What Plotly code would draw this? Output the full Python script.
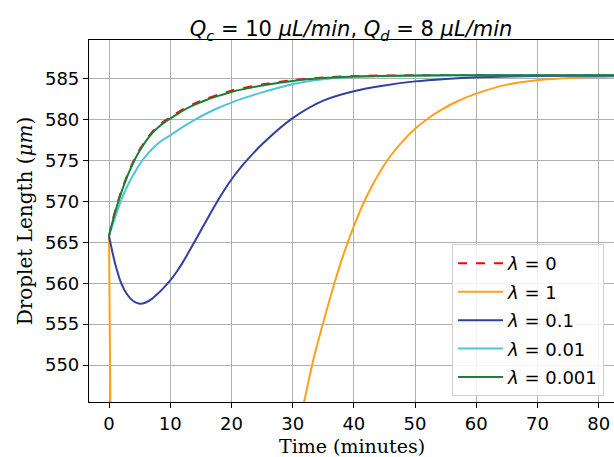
import plotly.graph_objects as go

# ---- data ----
t_green = [0, 0.5, 1, 1.5, 2, 3, 4, 5, 6, 7, 8, 9, 10, 12, 14, 16, 18, 20, 22, 25, 30, 35, 40, 50, 60, 82.5]
y_green = [565.8, 567.3, 568.7, 569.95, 571.1, 573.1, 574.8, 576.2, 577.35, 578.3, 579.05, 579.65, 580.15, 581.1,
           581.85, 582.45, 582.95, 583.4, 583.75, 584.2, 584.75, 585.1, 585.3, 585.42, 585.45, 585.45]

t_red = t_green
y_red = [565.8, 567.45, 568.85, 570.1, 571.25, 573.25, 574.95, 576.35, 577.5, 578.45, 579.2, 579.8, 580.3, 581.25,
         582.0, 582.6, 583.1, 583.55, 583.9, 584.33, 584.85, 585.17, 585.35, 585.45, 585.48, 585.48]

t_cyan = [0, 1, 2, 3, 4, 5, 6, 7, 8, 9, 10, 12, 14, 16, 18, 20, 22, 25, 30, 35, 40, 50, 60, 82.5]
y_cyan = [565.8, 568.1, 570.2, 571.9, 573.3, 574.55, 575.55, 576.4, 577.1, 577.65, 578.1, 579.1, 580.0, 580.8,
          581.5, 582.1, 582.65, 583.35, 584.35, 584.95, 585.25, 585.4, 585.45, 585.45]

t_blue = [0, 0.5, 1, 2, 3, 4, 5, 6, 7, 8, 9, 10, 11, 12, 14, 16, 18, 20, 22, 25, 30, 35, 40, 45, 50, 55, 60, 70,
          82.5]
y_blue = [565.8, 564.0, 562.4, 560.0, 558.6, 557.8, 557.5, 557.65, 558.1, 558.75, 559.5, 560.35, 561.35, 562.5,
          565.1, 567.8, 570.4, 572.7, 574.6, 577.0, 580.2, 582.35, 583.5, 584.2, 584.7, 585.0, 585.2, 585.35, 585.4]

# orange: sharp drop at t=0 (leaves the axes), then returns from below around t=32
t_orange = [0, 0.5, None, 31.0, 31.85, 33.4, 35, 36.7, 38.3, 40, 42, 44, 46, 48, 50, 52, 54, 57, 60, 65, 70, 76, 82.5]
y_orange = [565.8, 520.0, None, 542.4, 545.4, 550.7, 555.2, 559.7, 563.5, 567.0, 570.5, 573.3, 575.6, 577.4, 578.9,
            580.1, 581.1, 582.3, 583.2, 584.3, 584.85, 585.15, 585.3]

x_ticks = [0, 10, 20, 30, 40, 50, 60, 70, 80]
y_ticks = [550, 555, 560, 565, 570, 575, 580, 585]

series = [
    ("<i>λ</i> = 0", t_red, y_red, "red", "dash"),
    ("<i>λ</i> = 1", t_orange, y_orange, "#ffa01c", "solid"),
    ("<i>λ</i> = 0.1", t_blue, y_blue, "#3140a3", "solid"),
    ("<i>λ</i> = 0.01", t_cyan, y_cyan, "#4fc4dc", "solid"),
    ("<i>λ</i> = 0.001", t_green, y_green, "#1b7f35", "solid"),
]

fig = go.Figure()
for i, (name, xs, ys, col, dash) in enumerate(series):
    fig.add_trace(go.Scatter(x=xs, y=ys, mode="lines", name=name, legendgroup=f"g{i}",
                             connectgaps=False,
                             line=dict(color=col, width=2, dash=dash, shape="spline", smoothing=0.8)))

sans = "DejaVu Sans, sans-serif"
serif = "DejaVu Serif, serif"

fig.update_layout(
    width=614, height=457,
    margin=dict(l=89, r=0, t=40, b=55),
    paper_bgcolor="white", plot_bgcolor="white",
    font=dict(family=sans, size=18, color="black"),
    title=dict(text="<i>Q<sub>c</sub></i> = 10 <i>μL/min</i>, <i>Q<sub>d</sub></i> = 8 <i>μL/min</i>",
               x=351 / 614, xanchor="center", y=1 - 29 / 457, yanchor="middle", yref="container",
               font=dict(family=sans, size=21)),
    legend=dict(x=0.981, y=0.436, xanchor="right", yanchor="top",
                bgcolor="rgba(255,255,255,0.85)", bordercolor="#d0d0d0", borderwidth=1,
                font=dict(family=sans, size=18), tracegroupgap=2, traceorder="grouped",
                itemwidth=45),
    showlegend=True,
    annotations=[dict(text="Time (minutes)", xref="paper", yref="paper", x=0.5, y=(402 - 445.5) / 362,
                      xanchor="center", yanchor="middle", showarrow=False,
                      font=dict(family=serif, size=19, color="black"))],
)

fig.update_xaxes(range=[-3.27, 82.5], tickvals=x_ticks, ticks="outside", ticklen=5, tickcolor="black",
                 showline=True, linecolor="black", linewidth=1.2, mirror=True,
                 showgrid=True, gridcolor="#b0b0b0", gridwidth=1, zeroline=False,
                 tickfont=dict(family=sans, size=18))
fig.update_yaxes(range=[545.48, 589.76], tickvals=y_ticks, ticks="outside", ticklen=5, tickcolor="black",
                 showline=True, linecolor="black", linewidth=1.2,
                 showgrid=True, gridcolor="#b0b0b0", gridwidth=1, zeroline=False,
                 title=dict(text="Droplet Length (<i>μm</i>)", font=dict(family=serif, size=20), standoff=6),
                 tickfont=dict(family=sans, size=18))

fig.write_html("out.html")
